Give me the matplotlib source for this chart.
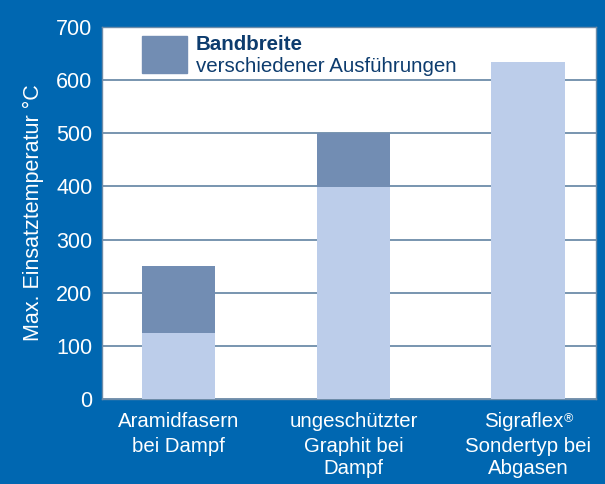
import matplotlib
matplotlib.use("Agg")
import matplotlib.pyplot as plt
from matplotlib.patches import Rectangle
from matplotlib.transforms import blended_transform_factory, offset_copy

categories = ["Aramidfasern\nbei Dampf", "ungeschützter\nGraphit bei\nDampf", "Sigraflex\u00ae\nSondertyp bei\nAbgasen"]
base_values = [125, 398, 635]
top_values = [250, 500, 635]
yticks = [0, 100, 200, 300, 400, 500, 600, 700]

BG = "#0067b1"
LIGHT = "#bccdea"
DARK = "#728db3"
GRID = "#6d8ca9"
NAVY = "#0d3c6e"
FS_X = 14.7

plt.rcParams['font.family'] = ['Liberation Sans', 'DejaVu Sans']

fig = plt.figure(figsize=(6.05, 4.84), dpi=100, facecolor=BG)
ax = fig.add_axes([102/605, 1-399/484, (596-102)/605, (399-27)/484])
ax.set_facecolor("white")

x = list(range(len(categories)))
band = [t - b for t, b in zip(top_values, base_values)]
ax.bar(x, base_values, width=0.42, color=LIGHT, zorder=3)
ax.bar(x, band, bottom=base_values, width=0.42, color=DARK, zorder=3)

ax.set_xlim(-0.44, 2.39)
ax.set_ylim(0, 700)
ax.set_yticks(yticks)
ax.set_yticklabels([str(v) for v in yticks], color="white", fontsize=15.5)
ax.set_xticks(x)
ax.set_xticklabels([""] * len(x))
ax.tick_params(axis="both", length=0)
ax.tick_params(axis="y", pad=7)
ax.yaxis.grid(True, color=GRID, linewidth=1.3, zorder=1)
ax.set_axisbelow(True)
for s in ax.spines.values():
    s.set_color(GRID)
    s.set_linewidth(1.0)

ax.set_ylabel("Max. Einsatztemperatur °C", color="white", fontsize=15.5, labelpad=9)

# category labels: first line separately (to allow a superscript ®), remaining lines below
blend = blended_transform_factory(ax.transData, ax.transAxes)
line_px = 1.2 * FS_X * 100 / 72
top_off = -13 * 72 / 100  # points below axes bottom
fig.canvas.draw()
renderer = fig.canvas.get_renderer()
for i, c in enumerate(categories):
    lines = c.split("\n")
    first = lines[0]
    word = first.replace("\u00ae", "")
    has_r = "\u00ae" in first
    shift = -3.0 if has_r else 0.0
    t1 = ax.text(i, 0, word, color="white", fontsize=FS_X, ha="center", va="top",
                 transform=offset_copy(blend, fig=fig, x=shift, y=top_off, units="points"))
    if has_r:
        w = t1.get_window_extent(renderer).width * 72 / 100
        ax.text(i, 0, "\u00ae", color="white", fontsize=9, ha="left", va="top",
                transform=offset_copy(blend, fig=fig, x=shift + w / 2 + 0.5, y=top_off - 0.5,
                                      units="points"))
    if len(lines) > 1:
        ax.text(i, 0, "\n".join(lines[1:]), color="white", fontsize=FS_X, ha="center",
                va="top", linespacing=1.2,
                transform=offset_copy(blend, fig=fig, y=top_off - line_px * 72 / 100,
                                      units="points"))

# legend
fig.patches.append(Rectangle((142/605, 1-73/484), 45/605, 37/484, transform=fig.transFigure,
                             color=DARK, zorder=5))
fig.text(196/605, 1-45/484, "Bandbreite", color=NAVY, fontsize=14.8, fontweight="bold", va="center")
fig.text(196/605, 1-66/484, "verschiedener Ausführungen", color=NAVY, fontsize=14.8, va="center")

fig.savefig("out.png", dpi=100, facecolor=BG)
